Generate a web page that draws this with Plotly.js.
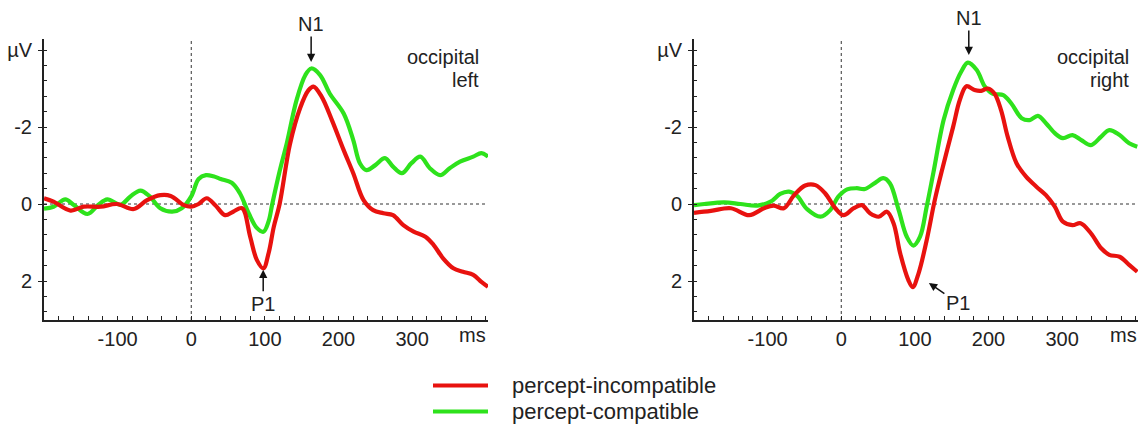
<!DOCTYPE html>
<html>
<head>
<meta charset="utf-8">
<script src="https://cdn.plot.ly/plotly-3.0.1.min.js"></script>
<style>html,body{margin:0;padding:0;background:#fff;}#chart{width:1138px;height:425px;}</style>
</head>
<body>
<div id="chart"></div>
<script>
// ---- data (time in ms, amplitude in µV, negative up) ----
var seriesNames = ["percept-incompatible", "percept-compatible"];
var panelLabels = [["occipital", "left"], ["occipital", "right"]];
var xTickVals = [-100, 0, 100, 200, 300];
var xTickText = ["-100", "0", "100", "200", "300"];
var yTickVals = [-4, -2, 0, 2];
var yTickText = ["µV", "-2", "0", "2"];

var leftRedT = [-200,-187,-164,-146,-123,-101,-78,-60,-42,-28,-10,0,10,21,33,46,57,69,80,89,98,105,112,120,134,148,159,166,177,191,207,220,234,247,261,274,288,302,318,329,342,356,369,383,394,403];
var leftRedV = [-0.15,-0.06,0.17,0.07,0.07,0.0,0.13,-0.1,-0.23,-0.21,0.03,0.07,0.0,-0.15,0.04,0.29,0.2,0.11,0.85,1.45,1.67,1.28,0.6,0.0,-1.55,-2.5,-2.95,-3.05,-2.79,-2.18,-1.4,-0.8,-0.1,0.16,0.24,0.29,0.55,0.72,0.85,1.06,1.41,1.67,1.76,1.84,2.02,2.15];

var leftGreenT = [-200,-187,-171,-160,-141,-126,-114,-96,-83,-69,-56,-42,-26,-13,0,10,20,30,40,55,66,78,89,98,105,110,120,130,143,155,163,175,188,207,220,229,238,250,263,274,286,299,311,324,338,351,365,383,394,403];
var leftGreenV = [0.12,0.07,-0.12,0.02,0.26,0.02,-0.12,0.02,-0.19,-0.35,-0.19,0.11,0.2,0.11,-0.2,-0.65,-0.75,-0.72,-0.65,-0.55,-0.28,0.24,0.62,0.72,0.45,0.0,-0.85,-1.6,-2.7,-3.35,-3.52,-3.35,-2.87,-2.35,-1.66,-1.06,-0.88,-1.01,-1.19,-0.97,-0.8,-1.06,-1.23,-0.93,-0.75,-0.93,-1.1,-1.23,-1.32,-1.23];

var rightRedT = [-200,-177,-150,-125,-105,-92,-78,-64,-49,-35,-22,-8,3,17,28,39,51,62,71,80,91,97,105,116,127,138,152,161,170,181,190,199,208,217,226,238,251,265,278,290,301,314,325,339,353,364,378,391,402];
var rightRedV = [0.23,0.18,0.11,0.29,0.11,0.04,0.11,-0.23,-0.48,-0.49,-0.28,0.11,0.29,0.11,0.03,0.24,0.33,0.2,0.5,1.28,1.97,2.16,1.8,0.94,-0.1,-0.97,-2.01,-2.7,-3.06,-2.96,-2.94,-3.0,-2.87,-2.44,-1.75,-1.06,-0.71,-0.45,-0.23,0.07,0.46,0.55,0.5,0.76,1.15,1.32,1.37,1.58,1.76];

var rightGreenT = [-200,-186,-159,-137,-114,-96,-83,-71,-60,-46,-28,-15,-4,8,21,32,46,57,66,78,89,98,107,116,125,139,152,163,172,184,195,206,220,231,245,256,267,278,290,301,314,326,339,353,364,378,391,402];
var rightGreenV = [0.03,0.0,-0.04,0.0,0.04,-0.06,-0.26,-0.32,-0.21,0.14,0.33,0.16,-0.19,-0.38,-0.41,-0.39,-0.55,-0.67,-0.54,0.16,0.85,1.08,0.85,0.07,-0.8,-2.18,-2.96,-3.44,-3.67,-3.48,-3.05,-2.86,-2.83,-2.61,-2.23,-2.18,-2.29,-2.1,-1.84,-1.71,-1.79,-1.66,-1.53,-1.75,-1.92,-1.79,-1.58,-1.49];

// ---- styling ----
var RED = "#e8120f", GREEN = "#2ee21c", INK = "#222";
var FONT = "Liberation Sans, Arial, sans-serif";
var W = 1138, H = 425, T = 39, B = 105;
var plotH = H - T - B;
function px2x(px){ return px / W; }
function py2y(py){ return (H - B - py) / plotH; }

function trace(t, v, color, name, xa, ya){
  return {x: t, y: v, type: "scatter", mode: "lines", name: name, xaxis: xa, yaxis: ya,
          line: {color: color, width: 4.2, shape: "spline", smoothing: 1}, hoverinfo: "skip", showlegend: false};
}
var data = [
  trace(leftGreenT, leftGreenV, GREEN, seriesNames[1], "x", "y"),
  trace(leftRedT, leftRedV, RED, seriesNames[0], "x", "y"),
  trace(rightGreenT, rightGreenV, GREEN, seriesNames[1], "x2", "y2"),
  trace(rightRedT, rightRedV, RED, seriesNames[0], "x2", "y2")
];

function xax(domain, anchor){
  return {domain: domain, anchor: anchor, range: [-200, 403], tickmode: "array", tickvals: xTickVals, ticktext: xTickText,
    showline: true, linecolor: INK, linewidth: 2, ticks: "inside", ticklen: 4, tickcolor: INK, tickwidth: 1,
    minor: {tickmode: "linear", tick0: 0, dtick: 20, ticks: "inside", ticklen: 4, tickcolor: INK, tickwidth: 1},
    showgrid: false, zeroline: false, tickfont: {family: FONT, size: 20, color: INK}, fixedrange: true};
}
function yax(anchor){
  return {domain: [0, 1], anchor: anchor, range: [(H - B - 204) / 38.5, (T - 204) / 38.5],
    tickmode: "array", tickvals: yTickVals, ticktext: yTickText,
    showline: true, linecolor: INK, linewidth: 2, ticks: "outside", ticklen: 4, tickcolor: INK, tickwidth: 1,
    minor: {tickmode: "linear", tick0: 0, dtick: 0.4, ticks: "inside", ticklen: 3, tickcolor: INK, tickwidth: 1},
    ticklabelstandoff: 2,
    showgrid: false, zeroline: false, tickfont: {family: FONT, size: 20, color: INK}, fixedrange: true};
}

var dot = {color: "#333", width: 1, dash: "dot"};
var shapes = [
  {type: "line", xref: "x", yref: "y domain", x0: 0, x1: 0, y0: 0, y1: 1, line: dot, layer: "below"},
  {type: "line", xref: "x domain", yref: "y", x0: 0, x1: 1, y0: 0, y1: 0, line: dot, layer: "below"},
  {type: "line", xref: "x2", yref: "y2 domain", x0: 0, x1: 0, y0: 0, y1: 1, line: dot, layer: "below"},
  {type: "line", xref: "x2 domain", yref: "y2", x0: 0, x1: 1, y0: 0, y1: 0, line: dot, layer: "below"},
  // legend samples
  {type: "line", xref: "paper", yref: "paper", x0: px2x(433), x1: px2x(488), y0: py2y(385.5), y1: py2y(385.5), line: {color: RED, width: 4}},
  {type: "line", xref: "paper", yref: "paper", x0: px2x(433), x1: px2x(488), y0: py2y(411.5), y1: py2y(411.5), line: {color: GREEN, width: 4}}
];

function txt(text, px, py, xanchor, size){
  return {text: text, xref: "paper", yref: "paper", x: px2x(px), y: py2y(py), xanchor: xanchor, yanchor: "middle",
    showarrow: false, font: {family: FONT, size: size, color: INK}};
}
function arrowTxt(text, xa, ya, x, y, ax, ay){
  return {text: text, xref: xa, yref: ya, x: x, y: y, ax: ax, ay: ay, showarrow: true,
    arrowhead: 2, arrowsize: 1.1, arrowwidth: 1.5, arrowcolor: "#111", standoff: 0,
    font: {family: FONT, size: 20, color: INK}};
}
var annotations = [
  txt(panelLabels[0][0], 481, 57, "right", 20),
  txt(panelLabels[0][1], 481, 80, "right", 20),
  txt(panelLabels[1][0], 1131, 57, "right", 20),
  txt(panelLabels[1][1], 1131, 80, "right", 20),
  txt("ms", 488, 335, "right", 20),
  txt("ms", 1139, 335, "right", 20),
  txt(seriesNames[0], 510, 385, "left", 22),
  txt(seriesNames[1], 510, 411, "left", 22),
  arrowTxt("N1", "x", "y", 162.8, -3.69, 0, -38),
  arrowTxt("P1", "x", "y", 97.7, 1.71, 0, 34),
  arrowTxt("N1", "x2", "y2", 173.2, -3.87, 0, -37),
  arrowTxt("P1", "x2", "y2", 119, 2.05, 29, 20)
];

var layout = {
  width: W, height: H, margin: {l: 0, r: 0, t: T, b: B, pad: 0},
  paper_bgcolor: "#fff", plot_bgcolor: "#fff", showlegend: false,
  font: {family: FONT, color: INK},
  xaxis: xax([44 / W, 488 / W], "y"),
  yaxis: yax("x"),
  xaxis2: xax([694 / W, 1], "y2"),
  yaxis2: yax("x2"),
  shapes: shapes,
  annotations: annotations
};
Plotly.newPlot("chart", data, layout, {staticPlot: true, displayModeBar: false});
</script>
</body>
</html>
